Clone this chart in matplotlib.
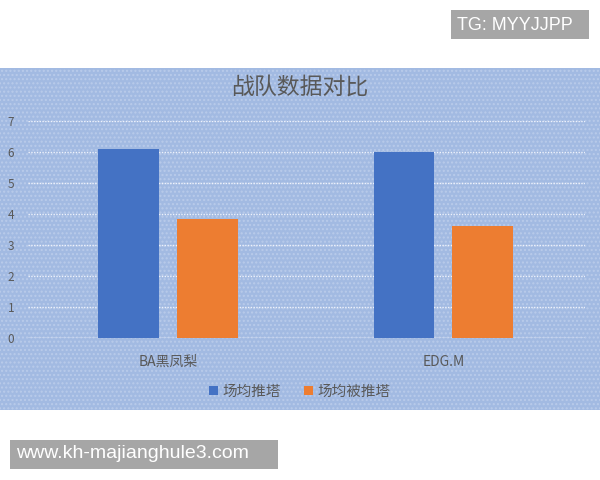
import numpy as np
import matplotlib.pyplot as plt
from matplotlib.patches import Rectangle

plt.rcParams['font.family'] = ['Noto Sans CJK SC', 'DejaVu Sans']

teams = ["BA黑凤梨", "EDG.M"]
towers_pushed = [6.1, 6.0]
towers_lost = [3.85, 3.6]
series_labels = ["场均推塔", "场均被推塔"]
yticks = [0, 1, 2, 3, 4, 5, 6, 7]

blue = "#4472c4"
orange = "#ed7d31"
bg = "#a2bae2"
textcol = "#595959"

fig = plt.figure(figsize=(6, 4.8), dpi=100)
fig.patch.set_facecolor("white")

# chart area background band
fig.patches.append(Rectangle((0, 70 / 480), 1, 342 / 480, transform=fig.transFigure,
                             facecolor=bg, edgecolor="#b9cbea", hatch="....",
                             linewidth=0, zorder=-5))

ax = fig.add_axes([28 / 600, 1 - 338 / 480, 557 / 600, 217 / 480])
ax.set_zorder(2)
ax.set_facecolor("none")

x = np.arange(len(teams))
w = 0.22
ax.bar(x - 0.143, towers_pushed, w, color=blue, label=series_labels[0], zorder=3)
ax.bar(x + 0.143, towers_lost, w, color=orange, label=series_labels[1], zorder=3)

ax.set_xlim(-0.508, 1.514)
ax.set_ylim(0, 7)
ax.set_yticks(yticks)
ax.yaxis.grid(True, color="#eef2fb", linewidth=1.0, linestyle=(0, (1, 1)), zorder=1)
for s in ax.spines.values():
    s.set_visible(False)
ax.tick_params(axis="y", length=0, labelsize=8.5, labelcolor=textcol, pad=10)
ax.tick_params(axis="x", length=0, labelsize=10, labelcolor=textcol, pad=12)
ax.set_xticks(x)
ax.set_xticklabels(teams)
ax.axhline(0, color="#e4eaf7", linewidth=1, zorder=2)

fig.text(0.5, 1 - 87 / 480, "战队数据对比", ha="center", va="center",
         fontsize=16.5, color=textcol, zorder=5)

leg = fig.legend(loc="center", bbox_to_anchor=(0.5, 1 - 392 / 480), ncol=2, frameon=False,
                 fontsize=10.5, labelcolor=textcol, handlelength=0.6, handleheight=0.6,
                 handletextpad=0.3, columnspacing=1.6)
leg.set_zorder(5)

# watermarks
fig.patches.append(Rectangle((451 / 600, 1 - 39 / 480), 138 / 600, 29 / 480,
                             transform=fig.transFigure, facecolor="#a6a6a6",
                             edgecolor="none", zorder=4))
fig.text(457 / 600, 1 - 25 / 480, "TG: MYYJJPP", ha="left", va="center", fontsize=13,
         color="white", family=["Liberation Sans"], zorder=5)
fig.patches.append(Rectangle((10 / 600, 1 - 469 / 480), 268 / 600, 29 / 480,
                             transform=fig.transFigure, facecolor="#a6a6a6",
                             edgecolor="none", zorder=4))
fig.text(16 / 600, 1 - 454 / 480, "www.kh-majianghule3.com", ha="left", va="center",
         fontsize=14, color="white", family=["Liberation Sans"], zorder=5)

plt.savefig("out.png", dpi=100)
